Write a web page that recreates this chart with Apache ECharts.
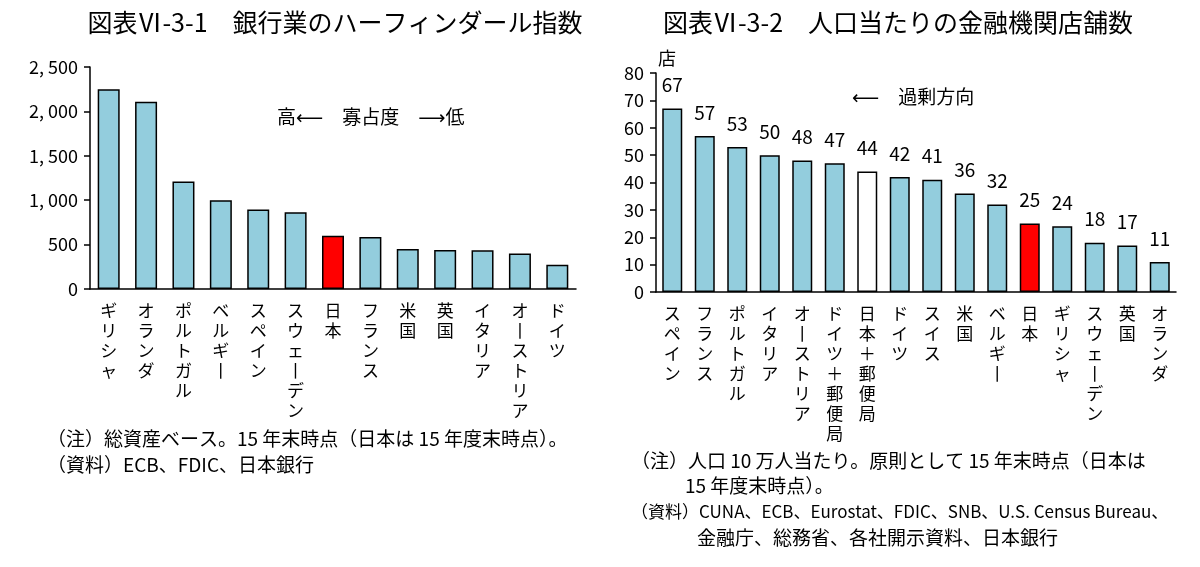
<!DOCTYPE html>
<html>
<head>
<meta charset="utf-8">
<script src="https://cdn.jsdelivr.net/npm/echarts@6/dist/echarts.min.js"></script>
<style>
  html, body { margin: 0; padding: 0; background: #fff; }
  #chart { width: 1200px; height: 567px; }
</style>
</head>
<body>
<div id="chart"></div>
<script>
// 図表VI-3-1 ハーフィンダール指数
const hhiCountries = ["ギリシャ", "オランダ", "ポルトガル", "ベルギー", "スペイン", "スウェーデン", "日本", "フランス", "米国", "英国", "イタリア", "オーストリア", "ドイツ"];
const hhiValues = [2250, 2110, 1210, 1000, 895, 865, 600, 585, 450, 440, 435, 400, 272];

// 図表VI-3-2 人口10万人当たり店舗数
const branchCountries = ["スペイン", "フランス", "ポルトガル", "イタリア", "オーストリア", "ドイツ＋郵便局", "日本＋郵便局", "ドイツ", "スイス", "米国", "ベルギー", "日本", "ギリシャ", "スウェーデン", "英国", "オランダ"];
const branchValues = [67, 57, 53, 50, 48, 47, 44, 42, 41, 36, 32, 25, 24, 18, 17, 11];

const FONT = "'Noto Sans CJK JP', sans-serif";
const BLUE = "#93cddd";
const RED = "#ff0000";

// 縦書き風のラベル（長音は縦棒に）
const vertical = (s) => s.replace(/ー/g, "丨").split("").join("\n");

const barColor = (name) => {
  if (name === "日本") return RED;
  if (name === "日本＋郵便局") return "#ffffff";
  return BLUE;
};

const chart = echarts.init(document.getElementById("chart"));

const catAxis = (gridIndex, data) => ({
  type: "category",
  gridIndex,
  data,
  axisLine: { lineStyle: { color: "#000", width: 1.5 } },
  axisTick: { length: 6, lineStyle: { color: "#000", width: 1.5 } },
  axisLabel: {
    interval: 0,
    formatter: vertical,
    color: "#000",
    fontFamily: FONT,
    fontSize: 17,
    lineHeight: 20,
    margin: 12,
    verticalAlign: "top",
  },
});

const valAxis = (gridIndex, max, interval, fmt) => ({
  type: "value",
  gridIndex,
  min: 0,
  max,
  interval,
  splitLine: { show: false },
  axisLine: { show: true, lineStyle: { color: "#000", width: 1.5 } },
  axisTick: { show: true, length: 6, lineStyle: { color: "#000", width: 1.5 } },
  axisLabel: { color: "#000", fontFamily: FONT, fontSize: 18, margin: 12, formatter: fmt },
});

const titleStyle = { fontFamily: FONT, fontSize: 25, fontWeight: "normal", color: "#000" };
const noteStyle = (text, size) => ({ text, fontFamily: FONT, fontSize: size || 19, fill: "#000" });
const ARROW_FONT = "'Noto Sans CJK JP', 'DejaVu Sans', sans-serif";

const option = {
  animation: false,
  textStyle: { fontFamily: FONT },
  title: [
    { text: "図表Ⅵ-3-1　銀行業のハーフィンダール指数", left: 330, top: 5, textAlign: "center", textStyle: titleStyle },
    { text: "図表Ⅵ-3-2　人口当たりの金融機関店舗数", left: 893, top: 5, textAlign: "center", textStyle: titleStyle },
  ],
  grid: [
    { left: 90, top: 67, width: 486, height: 222 },
    { left: 656, top: 73, width: 520, height: 219 },
  ],
  xAxis: [catAxis(0, hhiCountries), catAxis(1, branchCountries)],
  yAxis: [
    valAxis(0, 2500, 500, (v) => (v >= 1000 ? Math.floor(v / 1000) + ", " + String(v % 1000).padStart(3, "0") : String(v))),
    Object.assign(valAxis(1, 80, 10), {
      name: "店",
      nameLocation: "end",
      nameGap: 6,
      nameTextStyle: { color: "#000", fontFamily: FONT, fontSize: 18, align: "left", padding: [0, 0, 0, 2] },
    }),
  ],
  series: [
    {
      type: "bar",
      xAxisIndex: 0,
      yAxisIndex: 0,
      barWidth: 22,
      data: hhiValues.map((v, i) => ({
        value: v,
        itemStyle: { color: barColor(hhiCountries[i]) },
      })),
      itemStyle: { borderColor: "#000", borderWidth: 1.5 },
    },
    {
      type: "bar",
      xAxisIndex: 1,
      yAxisIndex: 1,
      barWidth: 20,
      data: branchValues.map((v, i) => ({
        value: v,
        itemStyle: { color: barColor(branchCountries[i]) },
      })),
      itemStyle: { borderColor: "#000", borderWidth: 1.5 },
      label: {
        show: true,
        position: "top",
        distance: 14,
        color: "#000",
        fontFamily: FONT,
        fontSize: 19,
      },
    },
  ],
  graphic: [
    { type: "text", left: 277, top: 107, style: { text: "高⟵　寡占度　⟶低", fontFamily: ARROW_FONT, fontSize: 19, fill: "#000" } },
    { type: "text", left: 852, top: 87, style: { text: "⟵　過剰方向", fontFamily: ARROW_FONT, fontSize: 19, fill: "#000" } },
    { type: "text", left: 47, top: 429, style: noteStyle("（注）総資産ベース。15 年末時点（日本は 15 年度末時点）。") },
    { type: "text", left: 47, top: 455, style: noteStyle("（資料）ECB、FDIC、日本銀行") },
    { type: "text", left: 631, top: 451, style: noteStyle("（注）人口 10 万人当たり。原則として 15 年末時点（日本は") },
    { type: "text", left: 685, top: 476, style: noteStyle("15 年度末時点）。") },
    { type: "text", left: 631, top: 503, style: noteStyle("（資料）CUNA、ECB、Eurostat、FDIC、SNB、U.S. Census Bureau、", 17) },
    { type: "text", left: 697, top: 528, style: noteStyle("金融庁、総務省、各社開示資料、日本銀行") },
  ],
};

chart.setOption(option);
</script>
</body>
</html>
